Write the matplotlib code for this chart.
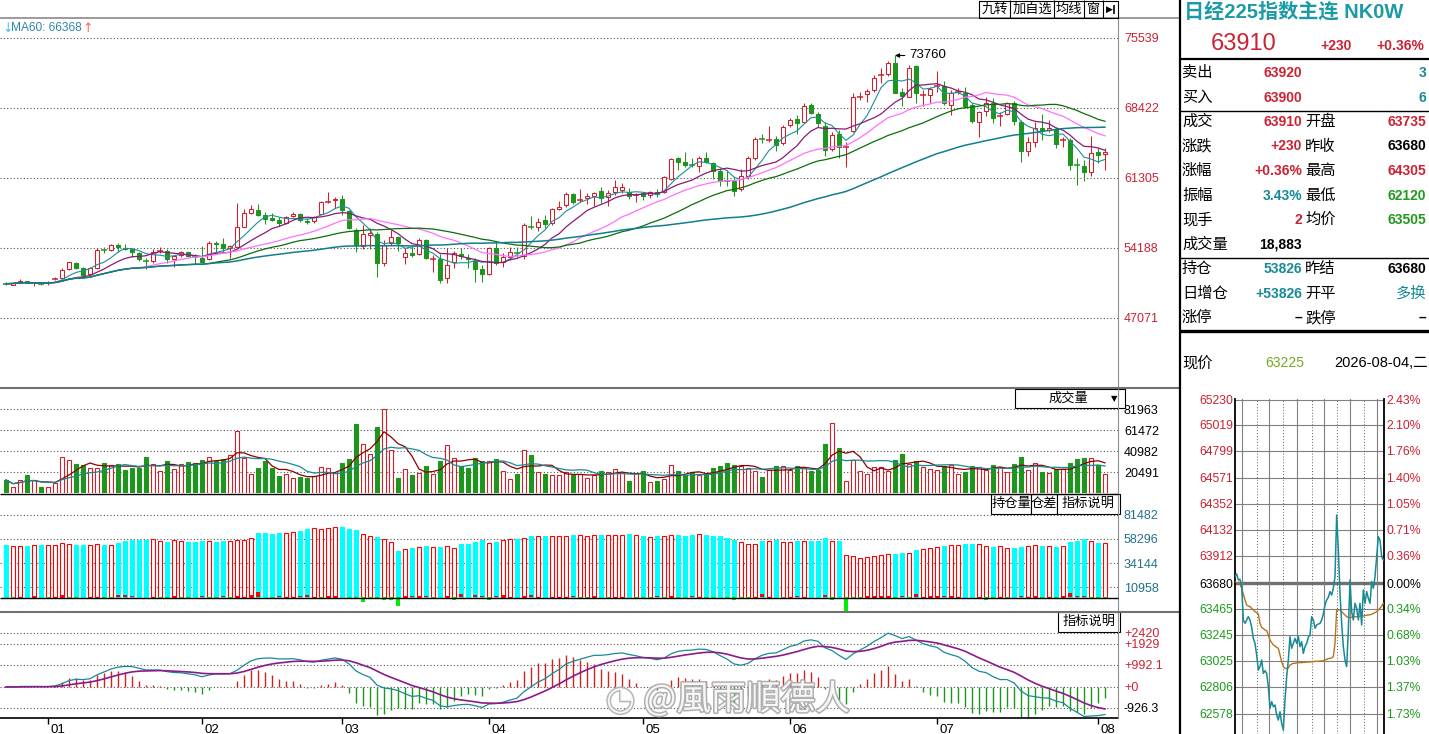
import numpy as np
import pandas as pd
import matplotlib
matplotlib.use("Agg")
import matplotlib.pyplot as plt
import matplotlib.patheffects as pe
import matplotlib.transforms as mtransforms

plt.rcParams["font.family"] = ["Liberation Sans", "Noto Sans CJK SC", "DejaVu Sans"]

# ---------------- data ----------------
opens = [50600, 50430, 50660, 50830, 50580, 50580, 50580, 51000, 51100, 52020,
         52630, 52120, 51510, 52120, 54000, 53950, 54460, 54220, 54090, 53650,
         52930, 52900, 53780, 53880, 53100, 53440, 53750, 53330, 53210, 53040,
         54730, 54560, 54150, 54320, 56360, 57780, 58050, 57540, 57200, 57030,
         56700, 57440, 57650, 56970, 56930, 57680, 58800, 59030, 59170, 57950,
         56020, 54430, 55480, 55610, 52630, 54660, 55270, 53240, 53650, 53580,
         55000, 53040, 53040, 51100, 52730, 53540, 53210, 52900, 52050, 51510,
         54150, 52760, 53240, 53760, 53370, 56380, 56290, 57030, 56700, 58190,
         58560, 59640, 59040, 59240, 59510, 59980, 59340, 59920, 60080, 59920,
         59570, 59750, 59580, 59920, 59920, 61200, 63370, 62930, 62650, 62560,
         63300, 62800, 62050, 61020, 61000, 60150, 61510, 63300, 65360, 65100,
         65240, 64830, 66690, 67300, 67030, 68730, 67810, 66590, 64220, 65780,
         64420, 66120, 69540, 69850, 70250, 71740, 71840, 72960, 70010, 69570,
         72730, 69710, 69740, 70630, 70690, 68730, 70050, 69980, 68730, 66960,
         68120, 68960, 67570, 67810, 68960, 67030, 64080, 65000, 66420, 66190,
         66250, 65130, 65170, 62660, 62530, 61950, 63910, 63735]
highs = [50770, 50620, 51000, 50880, 50770, 50770, 50870, 51210, 52120, 52800,
         52730, 52290, 52220, 54150, 54320, 54590, 54730, 54590, 54150, 53820,
         53140, 54050, 54260, 54050, 53480, 53880, 53820, 53540, 54390, 54900,
         54930, 55170, 54490, 58800, 58120, 58560, 58660, 57810, 57710, 57370,
         57480, 57850, 57780, 57200, 57480, 58930, 59850, 59340, 59580, 58050,
         56190, 56530, 56190, 55850, 55000, 56020, 55410, 54150, 54390, 55170,
         55070, 53480, 53580, 54150, 53920, 54150, 53580, 53140, 52460, 54320,
         54830, 53710, 54260, 54260, 56700, 57440, 57270, 57540, 58220, 58970,
         59880, 59750, 60190, 59750, 59920, 60420, 60080, 61100, 60760, 60250,
         59750, 59920, 59980, 60220, 61510, 63370, 63470, 63980, 63300, 63540,
         63980, 62970, 62290, 62120, 61440, 62190, 63540, 65510, 65780, 66590,
         65580, 66690, 67370, 67710, 68960, 68900, 68050, 67030, 66020, 66190,
         65000, 69910, 70080, 70320, 71780, 72450, 73230, 73760, 70420, 72790,
         72790, 70250, 70590, 72180, 71200, 70250, 70420, 70520, 68900, 68150,
         69570, 69400, 68050, 69070, 69130, 67200, 65510, 67030, 67810, 67200,
         66520, 65510, 65340, 63300, 63130, 65580, 64320, 64305]
lows = [50430, 50400, 50600, 50600, 50330, 50430, 50430, 50930, 51040, 51950,
        52020, 51340, 51440, 52050, 53650, 53880, 53820, 53980, 53240, 52900,
        52020, 52700, 53710, 52700, 52290, 53310, 53240, 52530, 52700, 52970,
        53650, 53820, 53140, 54260, 56290, 57680, 57440, 56630, 56970, 56420,
        56630, 57370, 56870, 56630, 56700, 57610, 58760, 58220, 57540, 56120,
        53820, 54090, 54090, 51270, 52360, 54490, 53920, 52560, 53240, 53480,
        53040, 51780, 50600, 50660, 52120, 53040, 52190, 50700, 50770, 51440,
        52460, 52290, 52970, 53310, 53040, 56090, 55950, 56190, 56530, 58050,
        58390, 58660, 58900, 58660, 58460, 58800, 58490, 59580, 59750, 59140,
        58900, 59070, 59240, 59340, 59810, 61100, 62120, 62390, 62460, 61950,
        62800, 61170, 60490, 60490, 59470, 60020, 61200, 63130, 64830, 65000,
        64080, 64660, 66520, 65780, 66930, 67810, 66520, 63540, 64080, 63300,
        62460, 66020, 69240, 69070, 70080, 71000, 71680, 69910, 68630, 69510,
        68960, 68630, 68960, 70080, 68730, 67710, 69850, 68390, 66930, 65510,
        67610, 66860, 66590, 67710, 66690, 62970, 63540, 64420, 65170, 66020,
        64320, 64490, 62120, 60590, 61030, 61510, 62800, 62120]
closes = [50560, 50600, 50830, 50660, 50600, 50550, 50610, 51040, 51950, 52730,
          52190, 51440, 52120, 53980, 53970, 54460, 54320, 54050, 53750, 53040,
          52900, 53750, 53850, 53100, 53370, 53750, 53370, 53300, 52760, 54660,
          54590, 54150, 54430, 56290, 57710, 58120, 57540, 57140, 57070, 56760,
          57310, 57650, 57030, 56800, 57370, 58830, 58830, 59170, 58090, 56260,
          54460, 55610, 55750, 52700, 54490, 55270, 54660, 53650, 53440, 55000,
          53140, 53070, 50900, 52430, 53650, 53410, 53040, 52090, 51510, 54150,
          52700, 53240, 53750, 53730, 56530, 56340, 56870, 56630, 58120, 58360,
          59680, 58900, 59070, 59470, 59810, 59240, 59750, 60360, 60360, 59470,
          59600, 59470, 59850, 59680, 61370, 63240, 62970, 62630, 62620, 63300,
          62900, 62050, 61030, 60990, 60020, 61540, 63300, 65240, 65320, 65130,
          64660, 66520, 67200, 66930, 68630, 67880, 66860, 64150, 65680, 64490,
          64490, 69510, 69570, 70150, 71440, 71780, 72960, 69980, 69640, 72450,
          69910, 69740, 70350, 70690, 68900, 69910, 70080, 68630, 67100, 68050,
          68960, 67440, 67610, 68960, 67130, 64080, 65000, 66350, 66190, 66420,
          64760, 65170, 62630, 62630, 61950, 63810, 63680, 63910]
volumes = [12690, 5530, 12360, 17240, 13010, 5860, 5530, 9760, 34810, 31880,
           28300, 27330, 24070, 24070, 28950, 27000, 28300, 22450, 24400, 24400,
           35130, 27980, 21140, 31230, 23420, 27980, 30250, 28950, 32200, 34810,
           31550, 33180, 36760, 60180, 34160, 18220, 24400, 31230, 24400, 16590,
           18220, 14310, 15610, 14960, 16590, 25050, 24070, 19190, 29280, 33510,
           67340, 47490, 37730, 64410, 81960, 41960, 14640, 23420, 17570, 19520,
           26350, 18220, 31230, 46520, 33830, 26020, 24400, 34160, 30900, 31230,
           33180, 21140, 13660, 18540, 41960, 37080, 20170, 18540, 17240, 17240,
           20490, 17240, 18540, 14640, 17240, 21470, 20170, 23420, 19840, 11710,
           19190, 21470, 10410, 11710, 13990, 27000, 21470, 17240, 20490, 17240,
           18220, 24400, 26350, 28950, 27330, 26670, 24720, 21800, 15610, 22450,
           26350, 26020, 22770, 26350, 24070, 21470, 22770, 47820, 68310, 43920,
           11390, 31880, 21470, 18540, 25050, 25050, 21800, 32200, 38060, 28630,
           31230, 25370, 23100, 22450, 26670, 27000, 18540, 20490, 26350, 25370,
           22450, 27330, 25370, 20490, 28300, 35130, 22450, 28950, 20490, 19520,
           23420, 23420, 29280, 33180, 34160, 33830, 27000, 18880]
open_interest = [51610, 50980, 50980, 51290, 52250, 52250, 51930, 51930, 53830, 52880,
                 51610, 52250, 52250, 52880, 52250, 51930, 54150, 56060, 57010, 57010,
                 57010, 57640, 55740, 55100, 56690, 55740, 55100, 55100, 56060, 55740,
                 55100, 56060, 55740, 56690, 56690, 58600, 63680, 63680, 62730, 63680,
                 63680, 64320, 65590, 67490, 68130, 67180, 68130, 69080, 69400, 67490,
                 66540, 62410, 60820, 59870, 57640, 54790, 46530, 48120, 49390, 50340,
                 51290, 50340, 50340, 51290, 49070, 52560, 53200, 55100, 56690, 54150,
                 55100, 57010, 57640, 57640, 58600, 60820, 60820, 60820, 60820, 60820,
                 61140, 62090, 61780, 60820, 61780, 62090, 61780, 61780, 62090, 62730,
                 61780, 61140, 59870, 60820, 60500, 62090, 61780, 61140, 62090, 62730,
                 62090, 60820, 60820, 58910, 56690, 54790, 53200, 53200, 56060, 56060,
                 56690, 55100, 55100, 56060, 56060, 56060, 56060, 58600, 56060, 56060,
                 42720, 41450, 39540, 40500, 41450, 42720, 43670, 43030, 44620, 44310,
                 47480, 48120, 49390, 50340, 51290, 52250, 52250, 52560, 52560, 53200,
                 50980, 50340, 50980, 49390, 49390, 50340, 50980, 52250, 51290, 51290,
                 50340, 51290, 55100, 56370, 57640, 55740, 54470, 53830]

month_starts = [6, 28, 48, 69, 91, 112, 133, 156]
month_labels = ["01", "02", "03", "04", "05", "06", "07", "08"]
price_ticks = [75539, 68422, 61305, 54188, 47071]
vol_ticks = [81963, 61472, 40982, 20491]
oi_ticks = [81482, 58296, 34144, 10958]
macd_ticks = [2420, 1929, 992.1, 0, -926.3]
macd_tick_labels = ["+2420", "+1929", "+992.1", "+0", "-926.3"]
ma_windows = [5, 10, 20, 30, 60]

# intraday panel
minute_prices = [63736, 63759, 63708, 63714, 63652, 63370, 63342, 63370, 63398, 63370,
                 63308, 63215, 63173, 63074, 62948, 62976, 63032, 62919, 62942, 62919,
                 62807, 62624, 62680, 62638, 62652, 62567, 62525, 62595, 62497, 62440,
                 62694, 62891, 63032, 63229, 63131, 63173, 63215, 63173, 63229, 63145,
                 63187, 63088, 63145, 63173, 63224, 63243, 63398, 63370, 63300, 63328,
                 63336, 63342, 63370, 63421, 63497, 63539, 63562, 63610, 63581, 63638,
                 63736, 64257, 63962, 63595, 63342, 63145, 63032, 62976, 63286, 63708,
                 63441, 63370, 63511, 63469, 63370, 63511, 63328, 63624, 63511, 63610,
                 63553, 63511, 63694, 63638, 63736, 63905, 64074, 64046, 63905, 63877]
minute_avg = [63694, 63686, 63680, 63674, 63638, 63590, 63539, 63497, 63488, 63483,
              63469, 63455, 63441, 63432, 63421, 63342, 63308, 63297, 63286, 63280,
              63243, 63201, 63179, 63159, 63150, 63139, 63131, 63074, 63018, 62976,
              62962, 62959, 62967, 62990, 62998, 63004, 63004, 63007, 63010, 63010,
              63010, 63012, 63012, 63015, 63015, 63015, 63018, 63018, 63021, 63021,
              63021, 63024, 63024, 63027, 63032, 63038, 63043, 63046, 63049, 63060,
              63173, 63455, 63455, 63455, 63441, 63426, 63412, 63398, 63393, 63390,
              63393, 63395, 63398, 63398, 63398, 63401, 63404, 63404, 63407, 63410,
              63412, 63415, 63418, 63426, 63432, 63441, 63455, 63469, 63488, 63511]
intraday_ticks = [65230, 65019, 64799, 64571, 64352, 64132, 63912, 63680,
                  63465, 63245, 63025, 62806, 62578]
intraday_pcts = ["2.43%", "2.10%", "1.76%", "1.40%", "1.05%", "0.71%", "0.36%", "0.00%",
                 "0.34%", "0.68%", "1.03%", "1.37%", "1.73%"]
prev_settle = 63680

info_labels = ["卖出", "买入", "成交", "涨跌", "涨幅", "振幅", "现手", "成交量", "持仓", "日增仓", "涨停"]
info_values = ["63920", "63900", "63910", "+230", "+0.36%", "3.43%", "2", "18,883", "53826", "+53826", "–"]
info_labels2 = ["", "", "开盘", "昨收", "最高", "最低", "均价", "", "昨结", "开平", "跌停"]
info_values2 = ["3", "6", "63735", "63680", "64305", "62120", "63505", "", "63680", "多换", "–"]

# ---------------- style ----------------
W, H = 1429, 734
RED = "#d0202c"
GREEN = "#1e961e"
TEAL = "#178a96"
TXT_RED = "#cc2233"
TXT_GREEN = "#1f9a1f"
ma_colors = ["#1a8f9a", "#8a1a78", "#ff70ff", "#0a6e0a", "#0f7f8c"]
ma_widths = [0.8, 0.9, 0.9, 0.9, 1.1]
XLIM = (-6 / 7, (1118 - 6) / 7)

fig = plt.figure(figsize=(W / 100, H / 100), dpi=100)
fig.patch.set_facecolor("white")


def px_axes(x0, y0, x1, y1):
    a = fig.add_axes([x0 / W, 1 - y1 / H, (x1 - x0) / W, (y1 - y0) / H])
    a.set_facecolor("none")
    for s in a.spines.values():
        s.set_visible(False)
    return a


def right_ticks(a, ticks, labels, color):
    a.set_yticks(ticks)
    a.set_yticklabels(labels)
    a.yaxis.tick_right()
    a.tick_params(axis="y", length=0, pad=4.3, labelsize=9, labelcolor=color)
    a.grid(axis="y", color="#555555", ls=(0, (1, 2)), lw=0.8)
    a.set_axisbelow(True)


o = np.array(opens, float)
h = np.array(highs, float)
l = np.array(lows, float)
c = np.array(closes, float)
idx = np.arange(len(c))
up = c >= o
col = np.where(up, RED, GREEN)

# ---------------- main candle panel ----------------
ax = px_axes(0, 18, 1118, 386)
ax.set_xlim(*XLIM)
ax.set_ylim(40157, 77572)
right_ticks(ax, price_ticks, [str(t) for t in price_ticks], TXT_RED)
ax.set_xticks([])

ax.vlines(idx, l, h, colors=col, lw=0.75, zorder=2)
body_lo = np.minimum(o, c)
body_h = np.abs(c - o)
flat = body_h < 80
sel = up & ~flat
ax.bar(idx[sel], body_h[sel], bottom=body_lo[sel], width=0.68,
       facecolor="white", edgecolor=RED, linewidth=0.75, zorder=3)
sel = ~up & ~flat
ax.bar(idx[sel], body_h[sel], bottom=body_lo[sel], width=0.68,
       facecolor=GREEN, edgecolor=GREEN, linewidth=0.75, zorder=3)
ax.hlines(c[flat], idx[flat] - 0.38, idx[flat] + 0.38, colors=col[flat], lw=1.1, zorder=3)

cs = pd.Series(closes, dtype=float)
for win, colr, lw in zip(ma_windows, ma_colors, ma_widths):
    ax.plot(idx, cs.rolling(win, min_periods=1).mean(), color=colr, lw=lw, zorder=4)

kmax = int(np.argmax(h))
ax.annotate(f"{h[kmax]:.0f}", xy=(kmax, h[kmax]), xytext=(10, 0), textcoords="offset points",
            ha="left", va="center", fontsize=9.5, color="black",
            arrowprops=dict(arrowstyle="-|>", color="black", lw=0.8, mutation_scale=6,
                            shrinkA=1, shrinkB=0))

# ---------------- volume ----------------
axv = px_axes(0, 388, 1118, 493)
axv.set_xlim(*XLIM)
axv.set_ylim(0, 102460)
right_ticks(axv, vol_ticks, [str(t) for t in vol_ticks], "black")
axv.set_xticks([])
vol = np.array(volumes, float)
axv.bar(idx[up], vol[up], width=0.64, facecolor="white", edgecolor=RED, linewidth=0.8, zorder=2)
axv.bar(idx[~up], vol[~up], width=0.64, facecolor=GREEN, edgecolor=GREEN, linewidth=0.8, zorder=2)
vs = pd.Series(volumes, dtype=float)
axv.plot(idx, vs.rolling(5, min_periods=1).mean(), color="#8b0000", lw=0.9, zorder=3)
axv.plot(idx, vs.rolling(10, min_periods=1).mean(), color=TEAL, lw=0.9, zorder=3)

# ---------------- open interest ----------------
axo = px_axes(0, 494, 1118, 612)
axo.set_xlim(*XLIM)
axo.set_ylim(-13035, 101590)
right_ticks(axo, oi_ticks, [str(t) for t in oi_ticks], "#23708a")
axo.set_xticks([])
oi = np.array(open_interest, float)
base = 1250
axo.bar(idx[up], oi[up] - base, bottom=base, width=0.68, facecolor="white",
        edgecolor="#ff0000", linewidth=0.8, zorder=2)
axo.bar(idx[~up], oi[~up] - base, bottom=base, width=0.68, facecolor="#00ffff",
        edgecolor="#00ffff", linewidth=0.8, zorder=2)
doi = np.diff(oi, prepend=oi[0])
axo.bar(idx, doi, bottom=base, width=0.6, color=np.where(doi >= 0, "#ff0000", "#00ee00"), zorder=3)

# ---------------- MACD ----------------
axm = px_axes(0, 612, 1118, 718)
axm.set_xlim(*XLIM)
axm.set_ylim(-1389, 3360)
right_ticks(axm, macd_ticks, macd_tick_labels, TXT_RED)
axm.get_yticklabels()[-1].set_color("black")
ema12 = cs.ewm(span=12, adjust=False).mean()
ema26 = cs.ewm(span=26, adjust=False).mean()
dif = ema12 - ema26
dea = dif.ewm(span=9, adjust=False).mean()
hist = 2 * (dif - dea)
axm.vlines(idx, 0, hist, colors=np.where(hist >= 0, "#cc2222", "#1a961a"), lw=1.0, zorder=2)
axm.plot(idx, dif, color=TEAL, lw=0.9, zorder=3)
axm.plot(idx, dea, color="#8b1a8b", lw=1.2, zorder=3)
axm.spines["bottom"].set_visible(True)
axm.spines["bottom"].set_color("black")
axm.spines["bottom"].set_linewidth(1.2)
axm.set_xticks(month_starts)
axm.set_xticklabels(month_labels)
axm.tick_params(axis="x", direction="out", length=4, width=1, color="black",
                labelsize=9.5, pad=0.5)
offset = mtransforms.ScaledTranslation(3 / 100, 0, fig.dpi_scale_trans)
for lab in axm.get_xticklabels():
    lab.set_ha("left")
    lab.set_transform(lab.get_transform() + offset)

# watermark
axm.text(0.668, 0.17, "@風雨順德人", transform=axm.transAxes, ha="center", va="center",
         fontsize=25, color="white", alpha=0.9, family=["Noto Sans CJK TC", "DejaVu Sans"],
         path_effects=[pe.withStroke(linewidth=2.2, foreground="#a8a8a8")], zorder=6)
axm.text(0.555, 0.17, "◔", transform=axm.transAxes, ha="center", va="center",
         fontsize=24, color="white", alpha=0.9, family=["DejaVu Sans"],
         path_effects=[pe.withStroke(linewidth=2.2, foreground="#b0b0b0")], zorder=6)

# ---------------- intraday panel ----------------
axi = px_axes(1235, 399, 1384, 734)
axi.set_xlim(0, 89.4)
axi.set_ylim(62407, 65237)
for t in intraday_ticks:
    if t == prev_settle:
        axi.axhline(t, color="#707070", lw=2.4, zorder=1)
    else:
        axi.axhline(t, color="#808080", lw=0.8, zorder=1)
for xg in [4.4, 20.6, 37, 53.4, 69, 85]:
    axi.axvline(xg, color="#808080", lw=0.8, zorder=1)
for xg in [13, 29, 46, 61, 77.6]:
    axi.axvline(xg, color="#606060", lw=0.7, ls=(0, (1, 2)), zorder=1)
mi = np.arange(len(minute_prices))
axi.plot(mi, minute_avg, color="#b8731a", lw=1.0, zorder=3)
axi.plot(mi, minute_prices, color=TEAL, lw=1.1, zorder=4)
axi.set_xticks([])
axi.set_yticks(intraday_ticks)
axi.set_yticklabels([str(t) for t in intraday_ticks])
axi.tick_params(axis="y", length=0, pad=1.5, labelsize=8.8)
for t, lab in zip(intraday_ticks, axi.get_yticklabels()):
    lab.set_color(TXT_RED if t > prev_settle else ("black" if t == prev_settle else TXT_GREEN))
for side in ["left", "right"]:
    axi.spines[side].set_visible(True)
    axi.spines[side].set_color("black")
    axi.spines[side].set_linewidth(1.3)
axt = axi.twinx()
axt.set_ylim(axi.get_ylim())
for s in axt.spines.values():
    s.set_visible(False)
axt.set_yticks(intraday_ticks)
axt.set_yticklabels(intraday_pcts)
axt.tick_params(axis="y", length=0, pad=1.5, labelsize=8.8)
for t, lab in zip(intraday_ticks, axt.get_yticklabels()):
    lab.set_color(TXT_RED if t > prev_settle else ("black" if t == prev_settle else TXT_GREEN))

# ---------------- overlay: frames, buttons, info panel ----------------
ov = fig.add_axes([0, 0, 1, 1])
ov.set_xlim(0, W)
ov.set_ylim(H, 0)
ov.axis("off")


def hl(y, x0, x1, color="black", lw=1.0):
    ov.plot([x0, x1], [y, y], color=color, lw=lw, solid_capstyle="butt")


def vl(x, y0, y1, color="black", lw=1.0):
    ov.plot([x, x], [y0, y1], color=color, lw=lw, solid_capstyle="butt")


hl(18, 0, 1180, "#808080", 1.1)
vl(1118, 18, 718, "#909090", 0.8)
hl(387.5, 0, 1180, "#707070", 1.5)
hl(493.5, 0, 1118, "black", 1.0)
hl(597.5, 0, 1118, "black", 1.0)
hl(611.5, 0, 1180, "#707070", 1.5)
vl(1180.5, 0, H, "black", 1.6)

# top-right buttons
ov.plot([979, 1118, 1118, 979, 979], [0.5, 0.5, 18, 18, 0.5], color="black", lw=0.8)
for xs in [1010, 1054, 1084, 1103]:
    vl(xs, 0, 18, "black", 0.8)
for txt, xc in zip(["九转", "加自选", "均线", "窗"], [995, 1032, 1069, 1093.5]):
    ov.text(xc, 9.5, txt, ha="center", va="center", fontsize=9.5)
ov.text(1109, 9.5, "▶", ha="center", va="center", fontsize=6.5, family=["DejaVu Sans"])
vl(1114, 5, 14, "black", 1.2)

# MA legend
ov.text(2, 28, "↓", color="#40c0e0", fontsize=9, va="center", ha="left", family=["DejaVu Sans"])
ov.text(11, 28, "MA60: 66368", color="#2f86a8", fontsize=8.6, va="center", ha="left")
ov.text(82, 28, "↑", color="#ff6060", fontsize=9, va="center", ha="left", family=["DejaVu Sans"])

# panel boxes
ov.add_patch(plt.Rectangle((1015, 389), 110, 19, facecolor="white", edgecolor="black", lw=0.8))
ov.text(1068, 398.5, "成交量", ha="center", va="center", fontsize=9.5)
ov.text(1114, 398.5, "▼", ha="center", va="center", fontsize=6, family=["DejaVu Sans"])
for x0, wdt, txt in [(991, 40, "持仓量"), (1031, 26, "仓差"), (1057, 63, "指标说明")]:
    ov.add_patch(plt.Rectangle((x0, 494), wdt, 20, facecolor="white", edgecolor="black", lw=0.8))
    ov.text(x0 + wdt / 2, 504, txt, ha="center", va="center", fontsize=9.5)
ov.add_patch(plt.Rectangle((1058, 612), 62, 20, facecolor="white", edgecolor="black", lw=0.8))
ov.text(1089, 622, "指标说明", ha="center", va="center", fontsize=9.5)

# info panel
ov.text(1184, 12, "日经225指数主连 NK0W", ha="left", va="center", fontsize=14.5,
        weight="bold", color="#1c9aa6")
ov.text(1211, 44, "63910", ha="left", va="center", fontsize=17, color=TXT_RED)
ov.text(1352, 46, "+230", ha="right", va="center", fontsize=10, weight="bold", color=TXT_RED)
ov.text(1424, 46, "+0.36%", ha="right", va="center", fontsize=10, weight="bold", color=TXT_RED)
hl(58.5, 1180, W, "black", 1.6)
hl(110.5, 1180, W, "black", 1.0)
hl(257.5, 1180, W, "black", 1.0)
hl(330.5, 1180, W, "black", 2.4)

val_colors = [TXT_RED, TXT_RED, TXT_RED, TXT_RED, TXT_RED, TEAL, TXT_RED, "black", TEAL, TEAL, "black"]
val2_colors = [TEAL, TEAL, TXT_RED, "black", TXT_RED, TXT_GREEN, TXT_GREEN, "black", "black", TEAL, "black"]
for i, (lab, val, lab2, val2) in enumerate(zip(info_labels, info_values, info_labels2, info_values2)):
    yy = 73 + 24.5 * i
    ov.text(1182, yy, lab, ha="left", va="center", fontsize=11)
    ov.text(1302, yy, val, ha="right", va="center", fontsize=10, weight="bold", color=val_colors[i])
    if lab2:
        ov.text(1305, yy, lab2, ha="left", va="center", fontsize=11)
    if val2:
        bold = "normal" if val2 == "多换" else "bold"
        ov.text(1426, yy, val2, ha="right", va="center", fontsize=10 if bold == "bold" else 11,
                weight=bold, color=val2_colors[i])

ov.text(1182, 363, "现价", ha="left", va="center", fontsize=11)
ov.text(1304, 363, "63225", ha="right", va="center", fontsize=10, color="#78a820")
ov.text(1428, 363, "2026-08-04,二", ha="right", va="center", fontsize=10.5)

fig.savefig("out.png", dpi=100, facecolor="white")
